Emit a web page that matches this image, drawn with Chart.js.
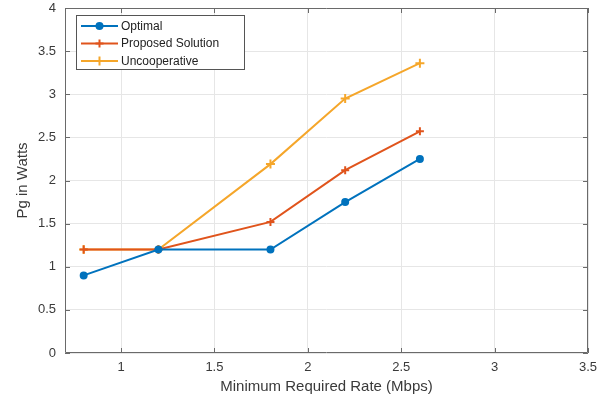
<!DOCTYPE html>
<html>
<head>
<meta charset="utf-8">
<script src="https://cdn.jsdelivr.net/npm/chart.js@4/dist/chart.umd.min.js"></script>
<style>
  html, body { margin: 0; padding: 0; background: #fff; }
  #wrap { width: 613px; height: 401px; }
</style>
</head>
<body>
<div id="wrap"><canvas id="c" width="613" height="401"></canvas></div>
<script>
// ===== data =====
const rates = [0.8, 1.2, 1.8, 2.2, 2.6];
const optimal = [0.9, 1.2, 1.2, 1.75, 2.25];
const proposed = [1.2, 1.2, 1.52, 2.12, 2.57];
const uncooperative = [1.2, 1.2, 2.19, 2.95, 3.36];
const xTicks = [1, 1.5, 2, 2.5, 3, 3.5];
const yTicks = [0, 0.5, 1, 1.5, 2, 2.5, 3, 3.5, 4];

const AXIS = '#6a6a6a';
const GRID = '#e6e6e6';
const TEXT = '#3a3a3a';
const FONT = '"Liberation Sans", Arial, Helvetica, sans-serif';

const pts = ys => rates.map((x, i) => ({ x: x, y: ys[i] }));
const fmt = v => String(+Number(v).toFixed(2));

// box, inward ticks and legend the matlab way
const matlabAxes = {
  id: 'matlabAxes',
  afterDatasetsDraw(chart) {
    const ctx = chart.ctx;
    const a = chart.chartArea;
    const xs = chart.scales.x, ys = chart.scales.y;
    ctx.save();
    ctx.strokeStyle = AXIS;
    ctx.lineWidth = 1;
    ctx.beginPath();
    ctx.rect(a.left + 0.5, a.top + 0.5, a.right - a.left - 1, a.bottom - a.top - 1);
    xTicks.forEach(v => {
      const px = Math.round(xs.getPixelForValue(v)) + 0.5;
      ctx.moveTo(px, a.bottom); ctx.lineTo(px, a.bottom - 5);
      ctx.moveTo(px, a.top); ctx.lineTo(px, a.top + 5);
    });
    yTicks.forEach(v => {
      const py = Math.round(ys.getPixelForValue(v)) + 0.5;
      ctx.moveTo(a.left, py); ctx.lineTo(a.left + 5, py);
      ctx.moveTo(a.right, py); ctx.lineTo(a.right - 5, py);
    });
    ctx.stroke();

    // legend
    const bx = 76, by = 15, bw = 168, bh = 54;
    ctx.fillStyle = '#fff';
    ctx.fillRect(bx, by, bw, bh);
    ctx.strokeStyle = '#555';
    ctx.strokeRect(bx + 0.5, by + 0.5, bw, bh);
    const rows = [26, 43.5, 61];
    ctx.font = '12px ' + FONT;
    ctx.textBaseline = 'middle';
    chart.data.datasets.forEach((ds, i) => {
      const y = rows[i];
      ctx.strokeStyle = ds.borderColor;
      ctx.fillStyle = ds.borderColor;
      ctx.lineWidth = 2;
      ctx.beginPath();
      ctx.moveTo(81, y); ctx.lineTo(118, y);
      ctx.stroke();
      Chart.helpers.drawPoint(ctx, {
        pointStyle: ds.pointStyle, radius: ds.pointRadius, rotation: 0,
        borderWidth: ds.pointBorderWidth
      }, 99.5, y);
      ctx.fillStyle = '#222';
      ctx.fillText(ds.label, 121, y + 0.5);
    });
    ctx.restore();
  }
};

const mkSet = (label, ys, color, style, r) => ({
  label: label,
  data: pts(ys),
  borderColor: color,
  backgroundColor: color,
  borderWidth: 2,
  pointStyle: style,
  pointRadius: r,
  pointHoverRadius: r,
  pointBorderWidth: 2,
  pointBackgroundColor: color,
  pointBorderColor: color,
  tension: 0
});

new Chart(document.getElementById('c'), {
  type: 'line',
  data: {
    datasets: [
      mkSet('Optimal', optimal, '#0072BD', 'circle', 3),
      mkSet('Proposed Solution', proposed, '#E0541C', 'cross', 4),
      mkSet('Uncooperative', uncooperative, '#F5A62A', 'cross', 4.5)
    ]
  },
  options: {
    responsive: false,
    animation: false,
    layout: { padding: { top: 0, right: 25, left: 0, bottom: 0 } },
    plugins: { legend: { display: false }, tooltip: { enabled: false } },
    scales: {
      x: {
        type: 'linear',
        min: 0.7,
        max: 3.5,
        afterBuildTicks: s => { s.ticks = xTicks.map(v => ({ value: v })); },
        afterFit: s => { s.height = 48; s.paddingRight = 0; s.paddingLeft = 0; },
        grid: { color: GRID, drawTicks: false },
        border: { display: false },
        ticks: { color: TEXT, padding: 7, maxRotation: 0, callback: fmt, font: { family: FONT, size: 13 } },
        title: {
          display: true, text: 'Minimum Required Rate (Mbps)', color: TEXT,
          font: { family: FONT, size: 15 }, padding: { top: 0, bottom: 5 }
        }
      },
      y: {
        type: 'linear',
        min: 0,
        max: 4,
        afterBuildTicks: s => { s.ticks = yTicks.map(v => ({ value: v })); },
        afterFit: s => { s.width = 65; s.paddingTop = 8; s.paddingBottom = 0; },
        grid: { color: GRID, drawTicks: false },
        border: { display: false },
        ticks: { color: TEXT, padding: 9, callback: fmt, font: { family: FONT, size: 13 } },
        title: {
          display: true, text: 'Pg in Watts', color: TEXT,
          font: { family: FONT, size: 15 }, padding: { top: 14, bottom: 0 }
        }
      }
    }
  },
  plugins: [matlabAxes]
});
</script>
</body>
</html>
